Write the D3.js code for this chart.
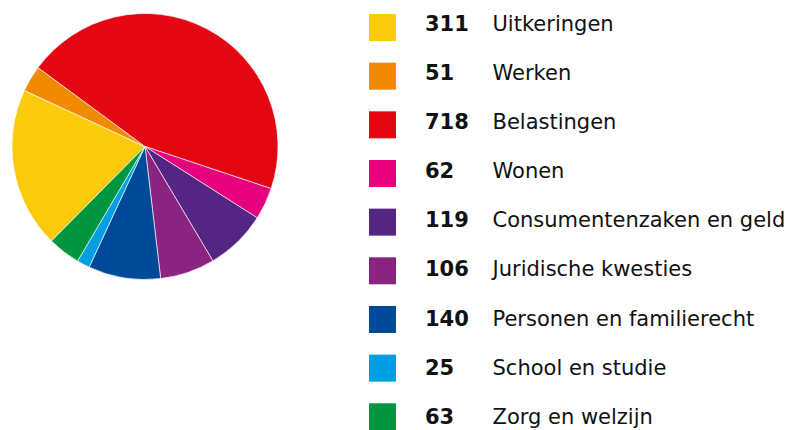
<!DOCTYPE html>
<html>
<head>
<meta charset="utf-8">
<script src="https://cdn.jsdelivr.net/npm/d3@7"></script>
<style>
  body { margin: 0; background: #fff; }
  svg { display: block; }
  text { font-family: "DejaVu Sans", Verdana, sans-serif; fill: #111; }
</style>
</head>
<body>
<svg id="chart" width="790" height="430"></svg>
<script>
var categories = ['Uitkeringen', 'Werken', 'Belastingen', 'Wonen', 'Consumentenzaken en geld',
  'Juridische kwesties', 'Personen en familierecht', 'School en studie', 'Zorg en welzijn'];
var values = [311, 51, 718, 62, 119, 106, 140, 25, 63];
var colors = ['#facb0a', '#f18a00', '#e30613', '#e6007e', '#542582',
  '#8b2381', '#004a99', '#009fe3', '#009640'];

var svg = d3.select('#chart');

// pie
var startAngle = -135.3 * Math.PI / 180;
var pie = d3.pie().sort(null)
    .startAngle(startAngle)
    .endAngle(startAngle + 2 * Math.PI);
var arc = d3.arc().innerRadius(0).outerRadius(133);

var data = categories.map(function(c, i) { return {name: c, value: values[i], color: colors[i]}; });

svg.append('g')
    .attr('transform', 'translate(145,146.5)')
  .selectAll('path')
    .data(pie.value(function(d) { return d.value; })(data))
    .enter().append('path')
    .attr('d', arc)
    .style('fill', function(d) { return d.color || d.data.color; })
    .style('stroke', '#fff')
    .style('stroke-width', 0.8)
    .style('stroke-opacity', 0.8);

// legend - swatches and texts sit on slightly different grids
var ySwatch = d3.scalePoint().domain(categories).range([14, 14 + 48.66 * 8]);
var yText = d3.scalePoint().domain(categories).range([30.5, 30.5 + 49.19 * 8]);

var legend = svg.append('g');

legend.selectAll('rect')
    .data(data)
    .enter().append('rect')
    .attr('x', 369)
    .attr('y', function(d) { return ySwatch(d.name); })
    .attr('width', 27).attr('height', 27)
    .style('fill', function(d) { return d.color; });

legend.selectAll('text.num')
    .data(data)
    .enter().append('text')
    .attr('class', 'num')
    .attr('x', 425)
    .attr('y', function(d) { return yText(d.name); })
    .style('font-size', '21px')
    .style('font-weight', 'bold')
    .text(function(d) { return d.value; });

legend.selectAll('text.lbl')
    .data(data)
    .enter().append('text')
    .attr('class', 'lbl')
    .attr('x', 492.5)
    .attr('y', function(d) { return yText(d.name); })
    .style('font-size', '21px')
    .text(function(d) { return d.name; });
</script>
</body>
</html>
